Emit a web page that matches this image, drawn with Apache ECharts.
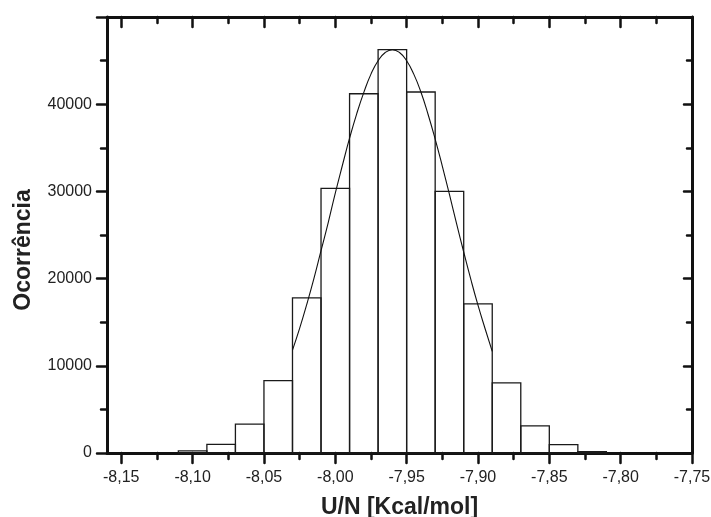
<!DOCTYPE html>
<html>
<head>
<meta charset="utf-8">
<script src="https://cdn.jsdelivr.net/npm/echarts@6/dist/echarts.min.js"></script>
<style>
html,body{margin:0;padding:0;background:#fff;}
#chart{width:711px;height:517px;}
</style>
</head>
<body>
<div id="chart"></div>
<script>
// ---- data ----
const binCenters = [-8.10, -8.08, -8.06, -8.04, -8.02, -8.00, -7.98, -7.96, -7.94, -7.92, -7.90, -7.88, -7.86, -7.84, -7.82];
const counts     = [250, 1000, 3300, 8300, 17800, 30350, 41200, 46250, 41400, 30000, 17100, 8050, 3100, 960, 150];
const binWidth = 0.02;

const fitX = [-8.030, -8.025, -8.020, -8.015, -8.010, -8.005, -8.000, -7.995, -7.990, -7.985, -7.980, -7.975, -7.970, -7.965, -7.960,
              -7.955, -7.950, -7.945, -7.940, -7.935, -7.930, -7.925, -7.920, -7.915, -7.910, -7.905, -7.900, -7.895, -7.890];
const fitY = [11800, 14300, 17050, 20000, 23200, 26400, 29800, 33000, 36100, 38900, 41350, 43450, 44980, 45930, 46250,
              45930, 44980, 43450, 41400, 38850, 36000, 32900, 29650, 26300, 23050, 19900, 16950, 14250, 11650];

const xMajorTicks = [-8.15, -8.10, -8.05, -8.00, -7.95, -7.90, -7.85, -7.80, -7.75];
const xMinorTicks = [-8.125, -8.075, -8.025, -7.975, -7.925, -7.875, -7.825, -7.775];

const xMin = -8.16, xMax = -7.75;
const yMin = 0, yMax = 50000, yStep = 10000;

const xTitle = 'U/N [Kcal/mol]';
const yTitle = 'Ocorrência';

// ---- chart ----
const chart = echarts.init(document.getElementById('chart'), null, {renderer: 'canvas'});
const ink = '#111';
const txt = '#222';
const font = '"Liberation Sans", Arial, Helvetica, sans-serif';
const fmt = v => (Math.round(v * 100) / 100).toFixed(2).replace('.', ',');

function xAx(pos, custom, len, inside, showLine, showLabel, extra) {
  return Object.assign({
    type: 'value', position: pos, min: xMin, max: xMax,
    axisLine: {show: showLine, onZero: false, lineStyle: {color: ink, width: 3}},
    axisTick: {show: true, customValues: custom, inside: inside, length: len, lineStyle: {color: ink, width: 2.5, cap: 'round'}},
    axisLabel: showLabel ? {show: true, customValues: custom, formatter: fmt, color: txt, fontSize: 16, fontFamily: font, margin: 17} : {show: false},
    splitLine: {show: false}
  }, extra || {});
}

const option = {
  backgroundColor: '#fff',
  animation: false,
  grid: {left: 107, right: 19, top: 17, bottom: 64, containLabel: false, outerBoundsMode: 'none'},
  xAxis: [
    xAx('bottom', xMajorTicks, 10, false, true, true, {
      name: xTitle, nameLocation: 'middle', nameGap: 43,
      nameTextStyle: {fontSize: 23, fontWeight: 'bold', color: txt, fontFamily: font}
    }),
    xAx('bottom', xMinorTicks, 6, false, false, false),
    xAx('top', xMajorTicks, 10, true, true, false),
    xAx('top', xMinorTicks, 6, true, false, false)
  ],
  yAxis: [
    {
      type: 'value', position: 'left', min: yMin, max: yMax, interval: yStep,
      axisLine: {show: true, onZero: false, lineStyle: {color: ink, width: 3}},
      axisTick: {show: true, inside: false, length: 10, lineStyle: {color: ink, width: 2.5, cap: 'round'}},
      minorTick: {show: true, splitNumber: 2, length: 6, lineStyle: {color: ink, width: 2.5, cap: 'round'}},
      axisLabel: {color: txt, fontSize: 16, fontFamily: font, margin: 15, showMaxLabel: false, formatter: v => String(v)},
      splitLine: {show: false},
      name: yTitle, nameLocation: 'middle', nameGap: 72,
      nameTextStyle: {fontSize: 23, fontWeight: 'bold', color: txt, fontFamily: font, padding: [0, 30, 0, 0]}
    },
    {
      type: 'value', position: 'right', min: yMin, max: yMax, interval: yStep,
      axisLine: {show: true, onZero: false, lineStyle: {color: ink, width: 3}},
      axisTick: {show: true, inside: true, length: 8, lineStyle: {color: ink, width: 2.5, cap: 'round'}},
      minorTick: {show: true, splitNumber: 2, length: 5, lineStyle: {color: ink, width: 2.5, cap: 'round'}},
      axisLabel: {show: false},
      splitLine: {show: false}
    }
  ],
  series: [
    {
      type: 'custom', xAxisIndex: 0, yAxisIndex: 0,
      data: binCenters.map((c, i) => [c, counts[i]]),
      renderItem: function (params, api) {
        const c = api.value(0), v = api.value(1);
        const p0 = api.coord([c - binWidth / 2, v]);
        const p1 = api.coord([c + binWidth / 2, 0]);
        return {
          type: 'rect',
          shape: {x: p0[0], y: p0[1], width: p1[0] - p0[0], height: p1[1] - p0[1]},
          style: {fill: 'rgba(0,0,0,0)', stroke: '#1a1a1a', lineWidth: 1.3}
        };
      },
      z: 3
    },
    {
      type: 'line', xAxisIndex: 0, yAxisIndex: 0,
      data: fitX.map((x, i) => [x, fitY[i]]),
      smooth: true, showSymbol: false,
      lineStyle: {color: '#111', width: 1.1},
      z: 4
    }
  ]
};
chart.setOption(option);
</script>
</body>
</html>
